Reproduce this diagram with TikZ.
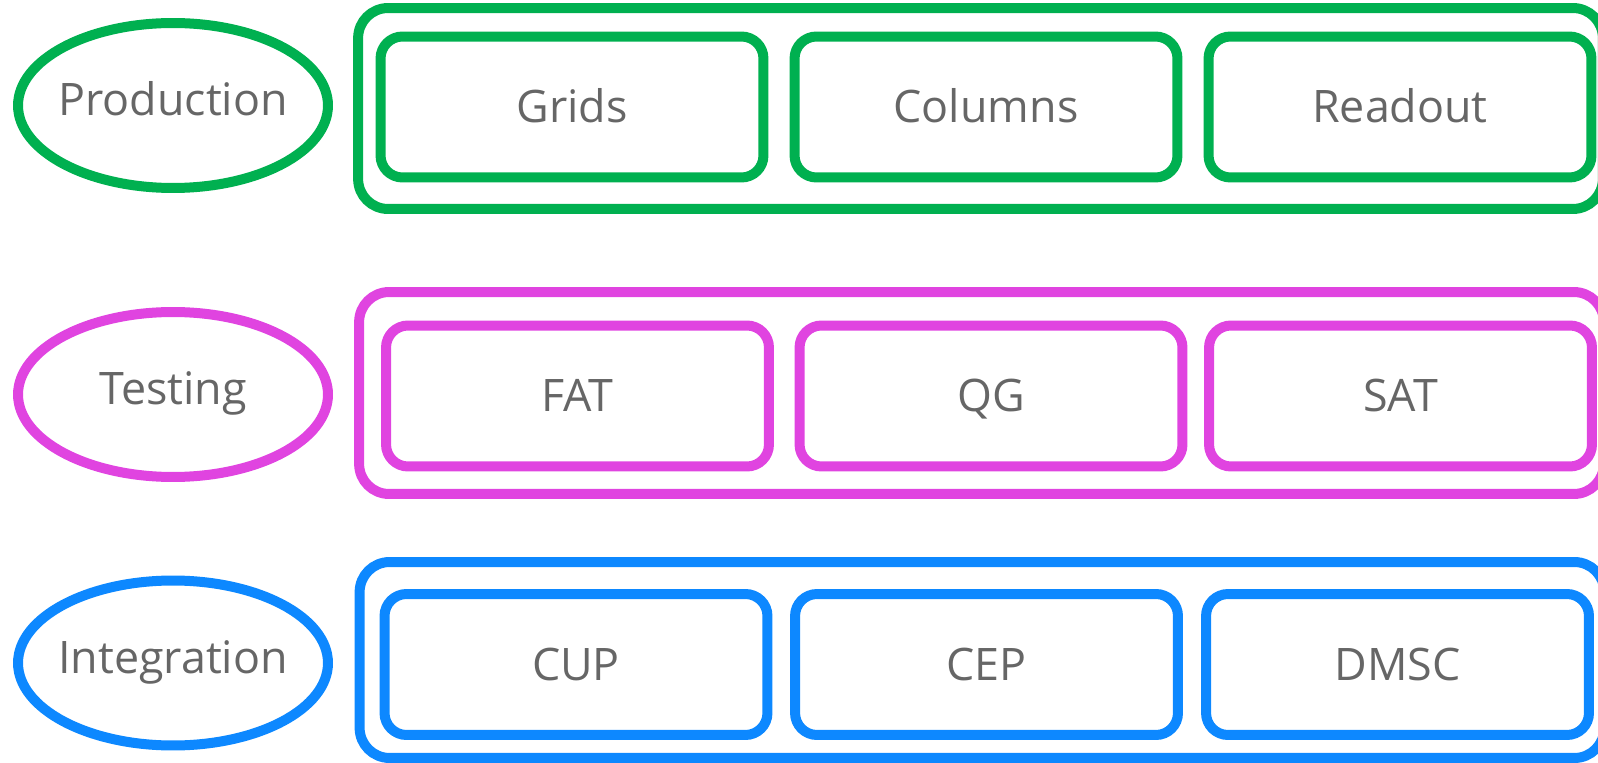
\documentclass[tikz,border=0pt]{standalone}
\usepackage{fontspec}
\setmainfont{Open Sans}
\usetikzlibrary{shapes}
\definecolor{prodgreen}{HTML}{00B050}
\definecolor{testpink}{HTML}{E044E0}
\definecolor{integblue}{HTML}{0D88FF}
\definecolor{txtgray}{HTML}{666666}

\begin{document}
\begin{tikzpicture}[x=0.02cm, y=-0.02cm,
  phase/.style={ellipse, line width=0.2cm, minimum width=6.2cm, minimum height=3.3cm, inner sep=0pt},
  group/.style={rectangle, rounded corners=0.6cm, line width=0.2cm, minimum width=24.9cm, inner sep=0pt},
  lbl/.style={inner sep=0pt, text=txtgray, font=\fontsize{25.5}{30}\selectfont, text height=18.2pt, text depth=0pt},
  task/.style={lbl, rectangle, rounded corners=0.44cm, line width=0.2cm, minimum width=7.66cm, minimum height=2.82cm}]

\clip (0,0) rectangle (1598,763);

% phases
\node[phase, draw=prodgreen](production) at (173,105.5){};
\node[lbl, yshift=0.11cm] at (production){Production};
\node[phase, draw=testpink](testing) at (173,394.5){};
\node[lbl, yshift=0.12cm] at (testing){Testing};
\node[phase, draw=integblue](integration) at (173,663){};
\node[lbl, yshift=0.11cm] at (integration){Integration};

% groups
\node[group, draw=prodgreen, minimum height=4.02cm](prodgroup) at (980.5,108.5){};
\node[group, draw=testpink, minimum height=4.04cm](testgroup) at (981.5,393){};
\node[group, draw=integblue, minimum height=3.92cm](integgroup) at (982,660){};

% tasks
\foreach \n/\t/\x in {grids/Grids/572, columns/Columns/986, readout/Readout/1400}{
\node[task, draw=prodgreen](\n) at (\x,107){\t};
}
\foreach \n/\t/\x in {fat/FAT/577.5, qg/QG/991, sat/SAT/1400.5}{
\node[task, draw=testpink](\n) at (\x,396){\t};
}
\foreach \n/\t/\x in {cup/CUP/576, cep/CEP/986.5, dmsc/DMSC/1397.5}{
\node[task, draw=integblue](\n) at (\x,664.5){\t};
}
\end{tikzpicture}
\end{document}
